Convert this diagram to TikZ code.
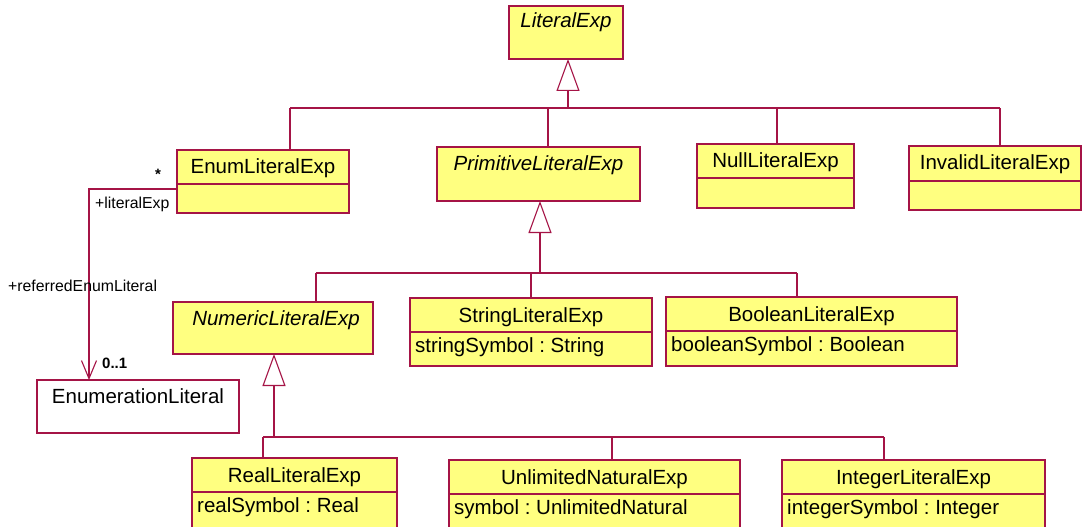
\documentclass[tikz,border=0pt]{standalone}
\usepackage{fontspec}
\setmainfont{Liberation Sans}
\usetikzlibrary{arrows.meta,calc}
\definecolor{umlred}{RGB}{165,20,70}
\definecolor{umlfill}{RGB}{255,255,128}
\frenchspacing
\begin{document}
\begin{tikzpicture}[x=1pt,y=-1pt,
  cls/.style={draw=umlred, fill=umlfill, line width=1.1pt, anchor=north west, inner sep=0pt, outer sep=0pt},
  plaincls/.style={cls, fill=white},
  ln/.style={draw=umlred, line width=1.1pt},
  gen/.style={ln, -{Triangle[open, length=32pt, width=23pt, line width=1.1pt]}},
  assoc/.style={ln, -{Straight Barb[length=18pt, width=15pt, line width=1.1pt]}},
  title/.style={anchor=base, inner sep=0pt, font=\fontsize{20.5}{24}\selectfont},
  atitle/.style={title, font=\fontsize{20.5}{24}\selectfont\itshape},
  attr/.style={anchor=base west, inner sep=0pt, font=\fontsize{20.5}{24}\selectfont},
  lbl/.style={anchor=base west, inner sep=0pt, font=\fontsize{15.8}{18}\selectfont},
  mult/.style={anchor=base west, inner sep=0pt, font=\fontsize{15}{18}\selectfont\bfseries}
]
\clip (0,0) rectangle (1082,527);
\fill[white] (0,0) rectangle (1082,527);

% ---- classes ----
\node[cls, minimum width=114pt, minimum height=53pt] (lit) at (509,6) {};
\node[atitle] (litT) at ($(lit.north)+(0,22)$) {LiteralExp};

\node[cls, minimum width=172pt, minimum height=63pt] (enum) at (177,150) {};
\node[title] (enumT) at ($(enum.north)+(0,23.5)$) {EnumLiteralExp};

\node[cls, minimum width=203pt, minimum height=54pt] (prim) at (437,147) {};
\node[atitle] (primT) at ($(prim.north)+(0,23)$) {PrimitiveLiteralExp};

\node[cls, minimum width=157pt, minimum height=64pt] (null) at (697,144) {};
\node[title] (nullT) at ($(null.north)+(0,23.5)$) {NullLiteralExp};

\node[cls, minimum width=172pt, minimum height=64pt] (inv) at (909,146) {};
\node[title] (invT) at ($(inv.north)+(0,23.5)$) {InvalidLiteralExp};

\node[cls, minimum width=200pt, minimum height=52pt] (num) at (173,302) {};
\node[atitle] (numT) at ($(num.north)+(3,23)$) {NumericLiteralExp};

\node[cls, minimum width=242pt, minimum height=68pt] (str) at (410,298) {};
\node[title] (strT) at ($(str.north)+(0,24)$) {StringLiteralExp};
\node[attr] (strA) at ($(str.north west)+(5,54)$) {stringSymbol : String};

\node[cls, minimum width=291pt, minimum height=69pt] (bool) at (666,297) {};
\node[title] (boolT) at ($(bool.north)+(0,24)$) {BooleanLiteralExp};
\node[attr] (boolA) at ($(bool.north west)+(5,54)$) {booleanSymbol : Boolean};

\node[plaincls, minimum width=202pt, minimum height=53pt] (enlit) at (37,380) {};
\node[title] (enlitT) at ($(enlit.north)+(0,23)$) {EnumerationLiteral};

\node[cls, minimum width=205pt, minimum height=80pt] (real) at (192,458) {};
\node[title] (realT) at ($(real.north)+(0,24)$) {RealLiteralExp};
\node[attr] (realA) at ($(real.north west)+(5,54)$) {realSymbol : Real};

\node[cls, minimum width=291pt, minimum height=80pt] (unl) at (449,460) {};
\node[title] (unlT) at ($(unl.north)+(0,24)$) {UnlimitedNaturalExp};
\node[attr] (unlA) at ($(unl.north west)+(5,54)$) {symbol : UnlimitedNatural};

\node[cls, minimum width=263pt, minimum height=80pt] (int) at (782,460) {};
\node[title] (intT) at ($(int.north)+(0,24)$) {IntegerLiteralExp};
\node[attr] (intA) at ($(int.north west)+(5,54)$) {integerSymbol : Integer};

% ---- compartment dividers ----
\foreach \c in {enum,null,str,bool,real,unl,int}
  \draw[ln] ($(\c.north west)+(0,34)$) -- ($(\c.north east)+(0,34)$);
\draw[ln] ($(inv.north west)+(0,35)$) -- ($(inv.north east)+(0,35)$);

% ---- generalization 1 ----
\coordinate (g1) at (568,108);
\coordinate (b1a) at (290,108);
\coordinate (b1b) at (548,108);
\coordinate (b1c) at (777,108);
\coordinate (b1d) at (1000,108);
\draw[ln] (b1a) -- (b1d);
\draw[gen] (g1) -- (g1 |- lit.south);
\draw[ln] (b1a) -- (b1a |- enum.north);
\draw[ln] (b1b) -- (b1b |- prim.north);
\draw[ln] (b1c) -- (b1c |- null.north);
\draw[ln] (b1d) -- (b1d |- inv.north);

% ---- generalization 2 ----
\coordinate (g2) at (540,273);
\coordinate (b2a) at (316,273);
\coordinate (b2b) at (531,273);
\coordinate (b2c) at (797,273);
\draw[ln] (b2a) -- (b2c);
\draw[gen] (g2) -- (g2 |- prim.south);
\draw[ln] (b2a) -- (b2a |- num.north);
\draw[ln] (b2b) -- (b2b |- str.north);
\draw[ln] (b2c) -- (b2c |- bool.north);

% ---- generalization 3 ----
\coordinate (g3) at (274,437);
\coordinate (b3a) at (263,437);
\coordinate (b3b) at (612,437);
\coordinate (b3c) at (884,437);
\draw[ln] (b3a) -- (b3c);
\draw[gen] (g3) -- (g3 |- num.south);
\draw[ln] (b3a) -- (b3a |- real.north);
\draw[ln] (b3b) -- (b3b |- unl.north);
\draw[ln] (b3c) -- (b3c |- int.north);

% ---- association ----
\coordinate (ae) at ($(enum.north west)+(0,39)$);
\coordinate (ac) at (89,189);
\draw[assoc] (ae) -- (ac) -- (ac |- enlit.north);

\node[mult] (mstar) at (155,179) {*};
\node[lbl] (lEx) at (95,208) {+literalExp};
\node[lbl] (lRef) at (8,291) {+referredEnumLiteral};
\node[mult] (m01) at (102,368) {0..1};
\end{tikzpicture}
\end{document}
